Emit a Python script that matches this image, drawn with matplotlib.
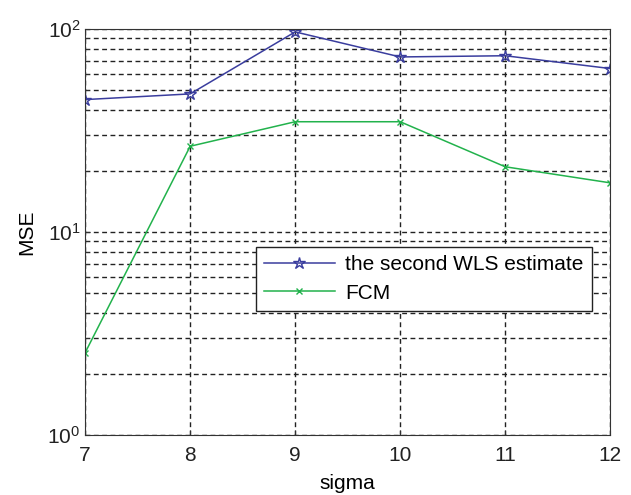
import matplotlib
matplotlib.use("Agg")
import matplotlib.pyplot as plt
from matplotlib.ticker import LogLocator

plt.rcParams['font.family'] = ['Liberation Sans', 'DejaVu Sans']
plt.rcParams['mathtext.default'] = 'regular'

sigma = [7, 8, 9, 10, 11, 12]
wls_mse = [45, 48, 97, 73, 74, 64]
fcm_mse = [2.55, 26.5, 35, 35, 21, 17.5]

fig = plt.figure(figsize=(6.31, 4.95), dpi=100)
ax = fig.add_axes([0.135, 0.121, 0.832, 0.820])

ax.plot(sigma, wls_mse, color='#3a3d9e', marker='*', markersize=9,
        markerfacecolor='none', markeredgecolor='#3a3d9e', linewidth=1.1,
        label='the second WLS estimate')
ax.plot(sigma, fcm_mse, color='#22b24c', marker='x', markersize=5,
        linewidth=1.1, label='FCM')

ax.set_yscale('log')
ax.set_xlim(7, 12)
ax.set_ylim(1, 100)
ax.yaxis.set_major_locator(LogLocator(base=10))
ax.yaxis.set_minor_locator(LogLocator(base=10, subs=range(2, 10)))

ax.grid(True, which='both', color='#222222', linestyle=(0, (3.5, 2.5)), linewidth=1.0)
ax.tick_params(which='both', direction='in', labelsize=15, colors='#333333', labelcolor='#222222')
ax.tick_params(axis='x', pad=8)
ax.tick_params(which='minor', length=3)
for s in ax.spines.values():
    s.set_color('#333333')

ax.set_xlabel('sigma', fontsize=15, labelpad=6)
ax.set_ylabel('MSE', fontsize=15, labelpad=8)

leg = ax.legend(loc='center right', bbox_to_anchor=(0.985, 0.385), fontsize=15,
                fancybox=False, framealpha=1, edgecolor='#222222',
                handlelength=3.4, borderpad=0.4, labelspacing=0.45, handletextpad=0.5)
leg.get_frame().set_linewidth(1.0)

fig.savefig('out.png', dpi=100)
